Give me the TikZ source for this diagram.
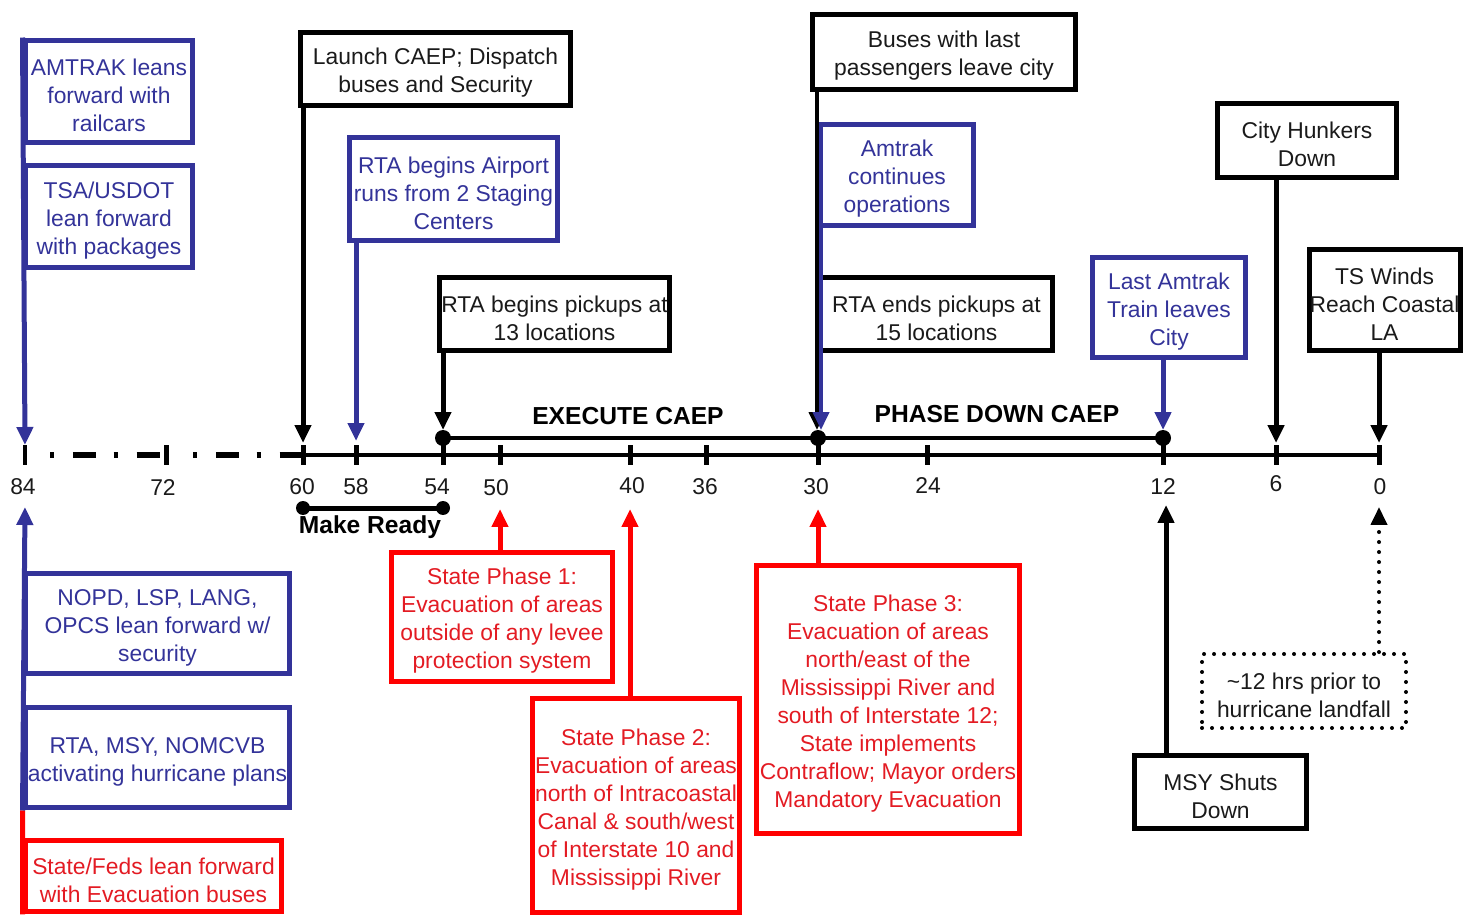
\documentclass[tikz,border=0pt]{standalone}
\usepackage{fontspec}
\setmainfont{Liberation Sans}
\usetikzlibrary{arrows.meta}
\definecolor{nblue}{HTML}{333399}
\definecolor{nred}{HTML}{FF0000}
\definecolor{tred}{HTML}{E31B23}
\definecolor{tblack}{HTML}{1A1A1A}
\newcommand{\tpush}{\rule{0pt}{14pt}}
\begin{document}
\begin{tikzpicture}[x=0.02cm,y=-0.02cm,
  box/.style={draw, line width=0.1cm, align=center, inner sep=0pt, font=\fontsize{13}{15.94}\selectfont},
  bbox/.style={box, draw=black, text=tblack},
  ubox/.style={box, draw=nblue, text=nblue},
  rbox/.style={box, draw=nred, text=tred},
  dbox/.style={box, draw=black, text=tblack, line width=0.08cm, dash pattern=on 0pt off 0.2cm, line cap=round},
  arr/.style={line width=0.1cm, -{Triangle[length=0.36cm,width=0.32cm]}},
  tlabel/.style={font=\fontsize{13}{15}\selectfont, text=tblack, inner sep=0pt},
  blabel/.style={font=\fontsize{14}{16}\selectfont\bfseries, text=black, inner sep=0pt},
  tick/.style={line width=0.1cm},
  bigdot/.style={circle, fill=black, inner sep=0pt, minimum size=0.32cm}
]
\useasboundingbox (0,0) rectangle (1464,915);

% axis coordinates
\coordinate (t84) at (25,455);
\coordinate (t72) at (166,455);
\coordinate (t60) at (303,455);
\coordinate (t58) at (356,455);
\coordinate (t54) at (443,455);
\coordinate (t50) at (500,455);
\coordinate (t40) at (630,455);
\coordinate (t36) at (706,455);
\coordinate (t30) at (818,455);
\coordinate (t24) at (927,455);
\coordinate (t12) at (1163,455);
\coordinate (t6) at (1276,455);
\coordinate (t0) at (1379,455);

% arrow tip coordinates
\coordinate (u84) at (25,445);
\coordinate (u60) at (303,443);
\coordinate (u58) at (356,441);
\coordinate (u54) at (443,430);
\coordinate (u30k) at (817,430);
\coordinate (u30b) at (821,430);
\coordinate (u12) at (1163,430);
\coordinate (u6) at (1276,443);
\coordinate (u0) at (1379,443);
\coordinate (d84) at (25,507);
\coordinate (d50) at (500,509);
\coordinate (d40) at (630,509);
\coordinate (d30) at (818,509);
\coordinate (d12) at (1166,505);
\coordinate (d0) at (1379,507);

% axis
\draw[line width=0.12cm, dash pattern=on 2.27pt off 10.77pt on 13.04pt off 10.2pt] (50,455) -- (166,455);
\draw[line width=0.12cm, dash pattern=on 2.27pt off 10.77pt on 13.04pt off 10.2pt] (193,455) -- (303,455);
\draw[line width=0.12cm] (280,455) -- (t60);
\draw[line width=0.075cm] (t60) -- (t0);
\foreach \t in {t84,t72,t60,t58,t54,t50,t40,t36,t30,t24,t12,t6,t0}
  \draw[tick] ([yshift=0.2cm]\t) -- ([yshift=-0.2cm]\t);

% tick labels
\node[tlabel] (l84) at (23,487) {84};
\node[tlabel] (l72) at (163,488) {72};
\node[tlabel] (l60) at (302,487) {60};
\node[tlabel] (l58) at (356,487) {58};
\node[tlabel] (l54) at (437,487) {54};
\node[tlabel] (l50) at (496,488) {50};
\node[tlabel] (l40) at (632,486) {40};
\node[tlabel] (l36) at (705,487) {36};
\node[tlabel] (l30) at (816,487) {30};
\node[tlabel] (l24) at (928,486) {24};
\node[tlabel] (l12) at (1163,487) {12};
\node[tlabel] (l6) at (1276,484) {6};
\node[tlabel] (l0) at (1380,487) {0};

% phase bars
\coordinate (p54) at (443,438);
\coordinate (p30) at (818,438);
\coordinate (p12) at (1163,438);
\draw[line width=0.1cm] (p54) -- (p12);
\node[bigdot] (dp54) at (p54) {};
\node[bigdot] (dp30) at (p30) {};
\node[bigdot] (dp12) at (p12) {};
\node[blabel] (exec) at (628,416) {EXECUTE CAEP};
\node[blabel] (phd) at (997,414) {PHASE DOWN CAEP};

\coordinate (m60) at (303,508);
\coordinate (m54) at (443,508);
\draw[line width=0.1cm] (m60) -- (m54);
\node[bigdot, minimum size=0.28cm] (dm60) at (m60) {};
\node[bigdot, minimum size=0.28cm] (dm54) at (m54) {};
\node[blabel] (mr) at (370,527) {Make Ready};

% upper boxes
\node[ubox, minimum width=3.36cm, minimum height=2.06cm] (A1) at (109,91.5) {\tpush AMTRAK leans\\forward with\\railcars};
\node[ubox, minimum width=3.36cm, minimum height=2.06cm] (A2) at (109,216.5) {\tpush TSA/USDOT\\lean forward\\with packages};
\node[bbox, minimum width=5.42cm, minimum height=1.48cm] (B1) at (435.5,69) {\tpush Launch CAEP; Dispatch\\buses and Security};
\node[ubox, minimum width=4.18cm, minimum height=2.08cm] (A3) at (453.5,189) {\tpush RTA begins Airport\\runs from 2 Staging\\Centers};
\node[bbox, minimum width=4.62cm, minimum height=1.48cm] (B2) at (554.5,314) {\tpush RTA begins pickups at\\13 locations};
\node[bbox, minimum width=5.28cm, minimum height=1.52cm] (B3) at (944,52) {\tpush Buses with last\\passengers leave city};
\node[ubox, minimum width=3.08cm, minimum height=2.04cm] (A4) at (897,175) {\tpush Amtrak\\continues\\operations};
\node[bbox, minimum width=4.66cm, minimum height=1.48cm] (B4) at (936.5,314) {\tpush RTA ends pickups at\\15 locations};
\node[bbox, minimum width=3.6cm, minimum height=1.5cm] (B5) at (1307,140.5) {\tpush City Hunkers\\Down};
\node[ubox, minimum width=3.08cm, minimum height=2.02cm] (A5) at (1169,307.5) {\tpush Last Amtrak\\Train leaves\\City};
\node[bbox, minimum width=3.02cm, minimum height=2.04cm] (B6) at (1384.5,300) {\tpush TS Winds\\Reach Coastal\\LA};

% lower boxes
\node[ubox, minimum width=5.3cm, minimum height=2.02cm] (A6) at (157.5,623.5) {\tpush NOPD, LSP, LANG,\\OPCS lean forward w/\\security};
\node[ubox, minimum width=5.3cm, minimum height=2.02cm] (A7) at (157.5,757.5) {\tpush RTA, MSY, NOMCVB\\activating hurricane plans};
\node[rbox, minimum width=5.14cm, minimum height=1.44cm] (R1) at (153.5,876) {\tpush State/Feds lean forward\\with Evacuation buses};
\node[rbox, minimum width=4.44cm, minimum height=2.6cm] (R2) at (502,617) {\tpush State Phase 1:\\Evacuation of areas\\outside of any levee\\protection system};
\node[rbox, minimum width=4.16cm, minimum height=4.3cm] (R3) at (636,805.5) {\tpush State Phase 2:\\Evacuation of areas\\north of Intracoastal\\Canal \& south/west\\of Interstate 10 and\\Mississippi River};
\node[rbox, minimum width=5.28cm, minimum height=5.38cm] (R4) at (888,699.5) {\tpush State Phase 3:\\Evacuation of areas\\north/east of the\\Mississippi River and\\south of Interstate 12;\\State implements\\Contraflow; Mayor orders\\Mandatory Evacuation};
\node[bbox, minimum width=3.46cm, minimum height=1.48cm] (B7) at (1220.5,792) {\tpush MSY Shuts\\Down};
\node[dbox, minimum width=4.08cm, minimum height=1.48cm] (D1) at (1304,691) {\tpush\textasciitilde12 hrs prior to\\hurricane landfall};

% downward connectors
\draw[arr, nblue] (A1.north west) -- (u84);
\draw[arr, black] (t60 |- B1.south) -- (u60);
\draw[arr, nblue] (t58 |- A3.south) -- (u58);
\draw[arr, black] (t54 |- B2.south) -- (u54);
\draw[arr, black, line width=0.08cm] (u30k |- B3.south) -- (u30k);
\draw[arr, nblue, line width=0.08cm] (u30b |- A4.south) -- (u30b);
\draw[arr, nblue] (t12 |- A5.south) -- (u12);
\draw[arr, black] (t6 |- B5.south) -- (u6);
\draw[arr, black] (t0 |- B6.south) -- (u0);

% upward connectors
\draw[line width=0.1cm, nred] (R1.south west) -- (A7.south west);
\draw[arr, nblue] (A7.south west) -- (d84);
\draw[arr, nred] (t50 |- R2.north) -- (d50);
\draw[arr, nred] (t40 |- R3.north) -- (d40);
\draw[arr, nred] (t30 |- R4.north) -- (d30);
\draw[arr, black] (d12 |- B7.north) -- (d12);
\draw[arr, black, line width=0.08cm, dash pattern=on 0pt off 0.2cm, line cap=round] (t0 |- D1.north) -- (d0);
\end{tikzpicture}
\end{document}
